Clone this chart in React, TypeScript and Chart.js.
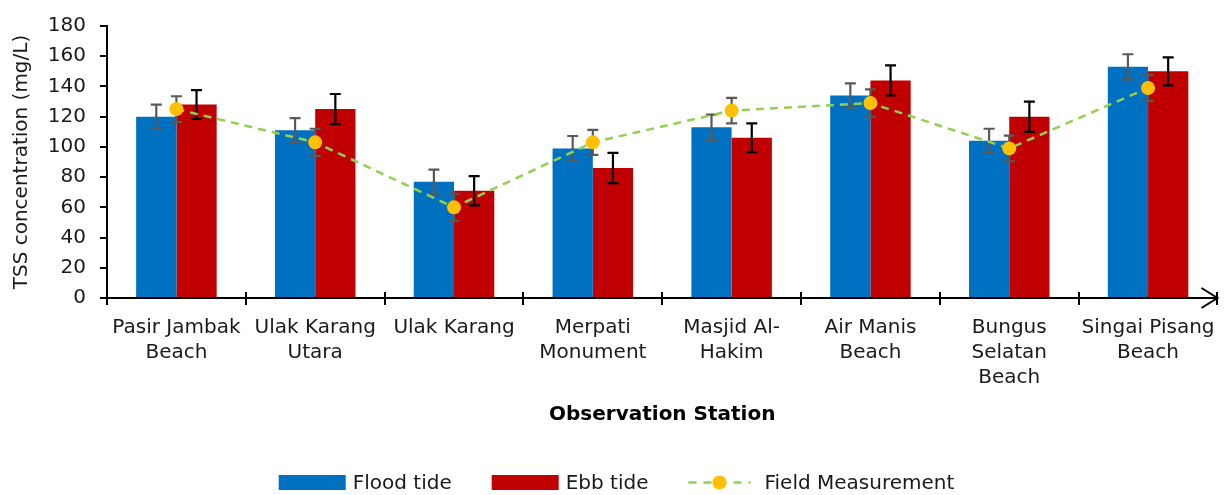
import React, { useEffect, useRef } from "react";
import { Chart, registerables } from "chart.js";

Chart.register(...registerables);

const FONT = "'DejaVu Sans', sans-serif";

const categories: string[][] = [
  ["Pasir Jambak", "Beach"],
  ["Ulak Karang", "Utara"],
  ["Ulak Karang"],
  ["Merpati", "Monument"],
  ["Masjid Al-", "Hakim"],
  ["Air Manis", "Beach"],
  ["Bungus", "Selatan", "Beach"],
  ["Singai Pisang", "Beach"],
];

const floodTide = [120, 111, 77, 99, 113, 134, 104, 153];
const floodTideErr = [8, 8, 8, 8.2, 8.4, 8, 8, 8.3];

const ebbTide = [128, 125, 71, 86, 106, 144, 120, 150];
const ebbTideErr = [9.5, 10, 9.7, 10, 9.5, 10, 10, 9.3];

const fieldMeasurement = [125, 103, 60, 103, 124, 129, 99, 139];
const fieldMeasurementErr = [8.5, 9, 9, 8.3, 8.5, 9, 8.5, 8.6];

const yMin = 0;
const yMax = 180;
const yStep = 20;

const legendItems = [
  { label: "Flood tide", kind: "box", color: "#0070C0" },
  { label: "Ebb tide", kind: "box", color: "#C00000" },
  { label: "Field Measurement", kind: "line", color: "#92D050", point: "#FFC000" },
];

function drawErrors(chart: any, index: number) {
  const ds: any = chart.data.datasets[index];
  if (!ds.errors) return;
  const meta = chart.getDatasetMeta(index);
  const y = chart.scales.y;
  const ctx = chart.ctx;
  ctx.save();
  ctx.strokeStyle = ds.errorColor;
  ctx.lineWidth = 2.2;
  ctx.setLineDash([]);
  meta.data.forEach((el: any, i: number) => {
    const v = ds.data[i];
    const e = ds.errors[i];
    const x = el.x;
    const yt = y.getPixelForValue(v + e);
    const yb = y.getPixelForValue(v - e);
    const cap = 5.5;
    ctx.beginPath();
    ctx.moveTo(x, yt);
    ctx.lineTo(x, yb);
    ctx.moveTo(x - cap, yt);
    ctx.lineTo(x + cap, yt);
    ctx.moveTo(x - cap, yb);
    ctx.lineTo(x + cap, yb);
    ctx.stroke();
  });
  ctx.restore();
}

const errorBarPlugin = {
  id: "errorBars",
  beforeDatasetDraw(chart: any, args: any) {
    const ds: any = chart.data.datasets[args.index];
    if (ds.errorUnder) drawErrors(chart, args.index);
  },
  afterDatasetDraw(chart: any, args: any) {
    const ds: any = chart.data.datasets[args.index];
    if (!ds.errorUnder) drawErrors(chart, args.index);
  },
};

const axisDecorPlugin = {
  id: "axisDecor",
  afterDraw(chart: any) {
    const { ctx, chartArea } = chart;
    const n = categories.length;
    const w = (chartArea.right - chartArea.left) / n;
    const b = chartArea.bottom;
    ctx.save();
    ctx.strokeStyle = "#000";
    ctx.lineWidth = 2;
    ctx.beginPath();
    for (let i = 1; i <= n; i++) {
      const x = Math.round(chartArea.left + i * w);
      ctx.moveTo(x, b - 6);
      ctx.lineTo(x, b);
    }
    ctx.stroke();
    const tx = chartArea.right;
    ctx.beginPath();
    ctx.moveTo(tx - 16, b - 10);
    ctx.lineTo(tx, b);
    ctx.lineTo(tx - 16, b + 10);
    ctx.stroke();
    ctx.restore();
  },
};

const legendPlugin = {
  id: "customLegend",
  afterDraw(chart: any) {
    const ctx = chart.ctx;
    ctx.save();
    ctx.font = `20px ${FONT}`;
    ctx.textBaseline = "middle";
    ctx.textAlign = "left";
    const iconW = 67;
    const lineIconW = 62;
    const gapBoxText = 7;
    const gapLineText = 14;
    const gapItems = 40;
    const widths = legendItems.map((it) => {
      const tw = ctx.measureText(it.label).width;
      return it.kind === "box" ? iconW + gapBoxText + tw : lineIconW + gapLineText + tw;
    });
    const total = widths.reduce((a, b) => a + b, 0) + gapItems * (legendItems.length - 1);
    const center = 616.5;
    const cy = 482.5;
    let x = center - total / 2;
    legendItems.forEach((it, i) => {
      if (it.kind === "box") {
        ctx.fillStyle = it.color;
        ctx.fillRect(x, cy - 7.5, iconW, 15);
        ctx.fillStyle = "#1a1a1a";
        ctx.fillText(it.label, x + iconW + gapBoxText, cy + 1);
      } else {
        ctx.strokeStyle = it.color;
        ctx.lineWidth = 2.5;
        ctx.setLineDash([8, 7]);
        ctx.beginPath();
        ctx.moveTo(x, cy);
        ctx.lineTo(x + lineIconW, cy);
        ctx.stroke();
        ctx.setLineDash([]);
        ctx.fillStyle = it.point as string;
        ctx.beginPath();
        ctx.arc(x + lineIconW / 2, cy, 7, 0, Math.PI * 2);
        ctx.fill();
        ctx.fillStyle = "#1a1a1a";
        ctx.fillText(it.label, x + lineIconW + gapLineText, cy + 1);
      }
      x += widths[i] + gapItems;
    });
    ctx.restore();
  },
};

export default function App() {
  const canvasRef = useRef<HTMLCanvasElement | null>(null);

  useEffect(() => {
    document.body.style.margin = "0";
    const canvas = canvasRef.current;
    if (!canvas) return;
    const chart = new Chart(canvas, {
      type: "bar",
      data: {
        labels: categories,
        datasets: [
          {
            type: "line",
            label: "Field Measurement",
            data: fieldMeasurement,
            borderColor: "#92D050",
            borderWidth: 2.5,
            borderDash: [8, 6],
            backgroundColor: "#FFC000",
            pointBackgroundColor: "#FFC000",
            pointBorderColor: "#FFC000",
            pointBorderWidth: 0,
            pointRadius: 7,
            tension: 0,
            fill: false,
            order: 0,
            errors: fieldMeasurementErr,
            errorColor: "#595959",
            errorUnder: true,
          } as any,
          {
            type: "bar",
            label: "Flood tide",
            data: floodTide,
            backgroundColor: "#0070C0",
            order: 1,
            errors: floodTideErr,
            errorColor: "#595959",
          } as any,
          {
            type: "bar",
            label: "Ebb tide",
            data: ebbTide,
            backgroundColor: "#C00000",
            order: 2,
            errors: ebbTideErr,
            errorColor: "#000000",
          } as any,
        ],
      },
      options: {
        animation: false,
        responsive: false,
        devicePixelRatio: 1,
        datasets: {
          bar: { categoryPercentage: 0.58, barPercentage: 1 },
        },
        layout: { padding: { left: 10, right: 6, top: 21, bottom: 62 } },
        plugins: {
          legend: { display: false },
          tooltip: { enabled: false },
        },
        scales: {
          x: {
            offset: true,
            grid: {
              display: true,
              offset: true,
              drawOnChartArea: false,
              drawTicks: true,
              tickLength: 7,
              color: "#000",
              lineWidth: 2,
            },
            border: { display: true, color: "#000", width: 2 },
            ticks: {
              font: { family: FONT, size: 20, lineHeight: 1.25 },
              color: "#1a1a1a",
              padding: 10,
              maxRotation: 0,
              autoSkip: false,
            },
            title: {
              display: true,
              text: "Observation Station",
              font: { family: FONT, size: 20, weight: "bold" },
              color: "#000",
              padding: { top: 0, bottom: 6 },
            },
            afterFit: (s: any) => {
              s.height = 135;
            },
          },
          y: {
            min: yMin,
            max: yMax,
            ticks: {
              stepSize: yStep,
              font: { family: FONT, size: 20 },
              color: "#1a1a1a",
              padding: 14,
            },
            grid: {
              display: true,
              drawOnChartArea: false,
              drawTicks: true,
              tickLength: 7,
              color: "#000",
              lineWidth: 2,
            },
            border: { display: true, color: "#000", width: 2 },
            title: {
              display: true,
              text: "TSS concentration (mg/L)",
              font: { family: FONT, size: 20 },
              color: "#1a1a1a",
              padding: 0,
            },
            afterFit: (s: any) => {
              s.width = 97;
            },
          },
        },
      } as any,
      plugins: [errorBarPlugin, axisDecorPlugin, legendPlugin],
    });
    return () => chart.destroy();
  }, []);

  return (
    <div style={{ position: "fixed", left: 0, top: 0, width: 1225, height: 495 }}>
      <canvas ref={canvasRef} width={1225} height={495} style={{ width: 1225, height: 495 }} />
    </div>
  );
}
